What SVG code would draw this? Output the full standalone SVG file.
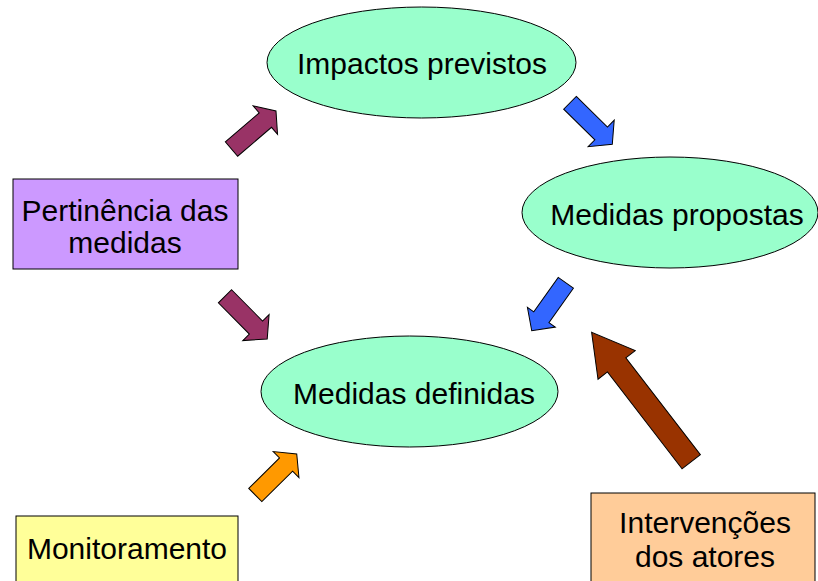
<svg xmlns="http://www.w3.org/2000/svg" width="818" height="581" viewBox="0 0 818 581">
<style>
.ell{fill:#99FFCC;stroke:#000;stroke-width:1}
.box{stroke:#000;stroke-width:1}
.t{font-family:"Liberation Sans",Arial,sans-serif;font-size:30px;fill:#000;text-anchor:middle}
.arr{stroke:#000;stroke-width:1;stroke-linejoin:miter}
</style>
<rect width="818" height="581" fill="#fff"/>
<g id="connectors">
<polygon class="arr" fill="#993366" transform="translate(231.5,149) rotate(-40.5)" points="0,-9.5 44.5,-9.5 44.5,-18.8 58.5,0 44.5,18.8 44.5,9.5 0,9.5"/>
<polygon class="arr" fill="#3366FF" transform="translate(570,102.8) rotate(44.5)" points="0,-9 43.7,-9 43.7,-18.6 59.3,0 43.7,18.6 43.7,9 0,9"/>
<polygon class="arr" fill="#3366FF" transform="translate(565.8,282.8) rotate(125.4)" points="0,-9.3 42.2,-9.3 42.2,-17.1 58.8,0 42.2,17.1 42.2,9.3 0,9.3"/>
<polygon class="arr" fill="#993366" transform="translate(225,296.3) rotate(45.3)" points="0,-9.3 44,-9.3 44,-18.5 60,0 44,18.5 44,9.3 0,9.3"/>
<polygon class="arr" fill="#FF9900" transform="translate(255.3,495) rotate(-44.7)" points="0,-9.3 43.3,-9.3 43.3,-18.3 58.3,0 43.3,18.3 43.3,9.3 0,9.3"/>
<polygon class="arr" fill="#993300" transform="translate(691.2,461.7) rotate(-127.6)" points="0,-11.6 122.2,-11.6 122.2,-23.5 163.2,0 122.2,23.5 122.2,11.6 0,11.6"/>
</g>
<g id="impactos">
<ellipse class="ell" cx="421.5" cy="62.5" rx="154.5" ry="55.5"/>
<text class="t" x="422" y="74">Impactos previstos</text>
</g>
<g id="propostas">
<ellipse class="ell" cx="670" cy="212.5" rx="148" ry="55.5"/>
<text class="t" x="677" y="225">Medidas propostas</text>
</g>
<g id="definidas">
<ellipse class="ell" cx="409.5" cy="391.5" rx="148.5" ry="55.5"/>
<text class="t" x="414" y="404">Medidas definidas</text>
</g>
<g id="pertinencia">
<rect class="box" x="13" y="179" width="225" height="90" fill="#CC99FF"/>
<text class="t" x="125" y="221">Pertinência das</text>
<text class="t" x="125" y="253">medidas</text>
</g>
<g id="monitoramento">
<rect class="box" x="16" y="516" width="222" height="80" fill="#FFFF99"/>
<text class="t" x="127" y="559">Monitoramento</text>
</g>
<g id="intervencoes">
<rect class="box" x="591" y="493" width="224" height="100" fill="#FFCC99"/>
<text class="t" x="705" y="533">Intervenções</text>
<text class="t" x="705" y="567">dos atores</text>
</g>
</svg>
